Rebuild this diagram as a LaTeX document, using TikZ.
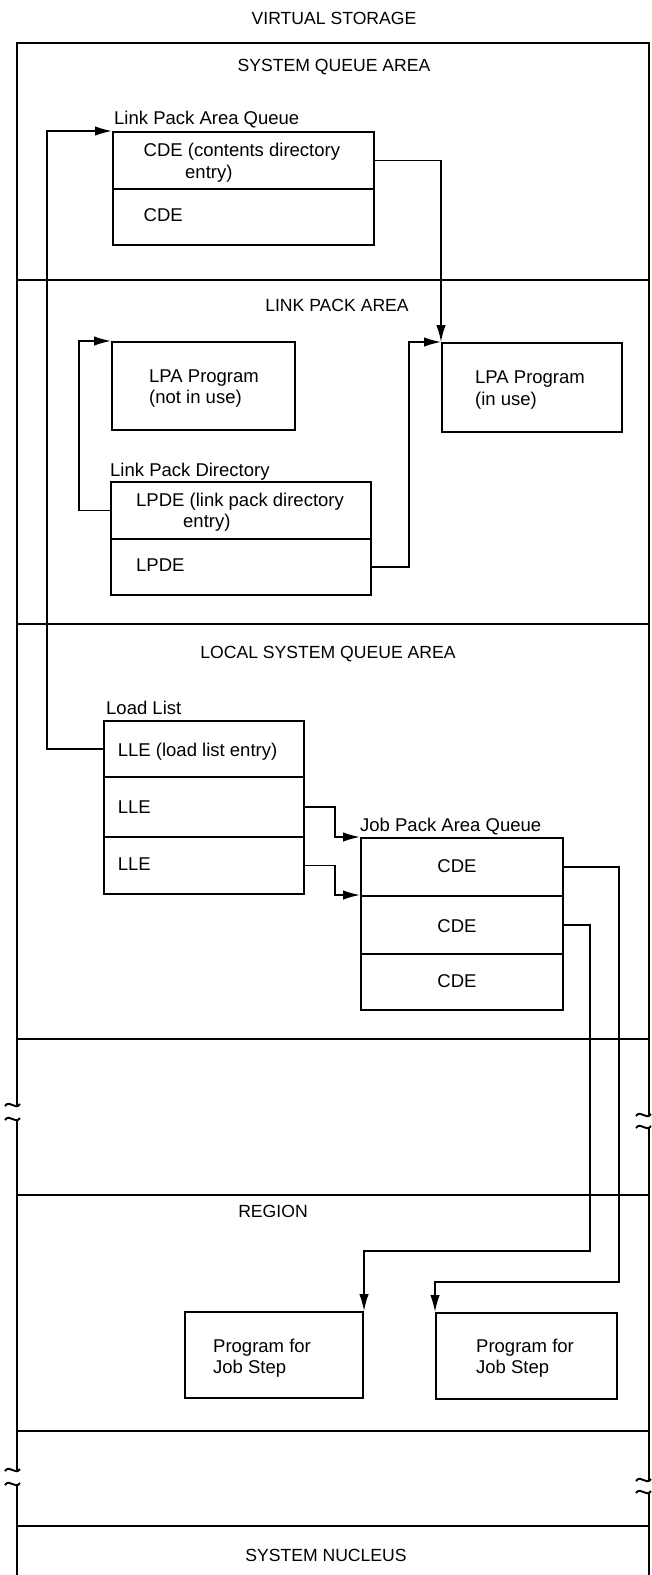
\documentclass[tikz,border=0pt]{standalone}
\usepackage{fontspec}
\setmainfont{Liberation Sans}
\usetikzlibrary{arrows.meta}
\begin{document}
\begin{tikzpicture}[x=1pt,y=-1pt,
  every node/.style={font=\fontsize{18.5}{22}\selectfont},
  frame/.style={line width=1.9pt},
  row/.style={draw,line width=2pt,inner sep=0pt,anchor=north west},
  txt/.style={anchor=base west,inner sep=0pt},
  ttl/.style={anchor=base,inner sep=0pt,font=\fontsize{17.6}{21}\selectfont},
  lbl/.style={anchor=base,inner sep=0pt},
  conn/.style={line width=1.6pt,-{Latex[length=17pt,width=9.5pt]}},
  brk/.style={line width=1.9pt}
]
\useasboundingbox (0,0) rectangle (652,1575);
% outer frame (broken at the break marks) and sections
\draw[frame] (17,1105) -- (17,43) -- (649,43) -- (649,1115);
\draw[frame] (17,1119) -- (17,1470);
\draw[frame] (17,1484) -- (17,1575);
\draw[frame] (649,1127) -- (649,1480);
\draw[frame] (649,1492) -- (649,1575);
\draw[frame] (17,280) -- (649,280);
\draw[frame] (17,624) -- (649,624);
\draw[frame] (17,1039) -- (649,1039);
\draw[frame] (17,1195) -- (649,1195);
\draw[frame] (17,1431) -- (649,1431);
\draw[frame] (17,1526) -- (649,1526);
% break marks
\foreach \bx/\by in {17/1105,17/1119,17/1470,17/1484}
  \draw[brk] (\bx-12,\by+1) .. controls (\bx-7,\by-6) and (\bx-2,\by+6) .. (\bx+3,\by-1);
\foreach \bx/\by in {649/1115,649/1127,649/1480,649/1492}
  \draw[brk] (\bx-13,\by+1) .. controls (\bx-8,\by-6) and (\bx-3,\by+6) .. (\bx+2,\by-1);
% titles
\node[ttl] (tvs) at (334,24.5) {VIRTUAL STORAGE};
\node[ttl] (tsqa) at (334,71.5) {SYSTEM QUEUE AREA};
\node[ttl] (tlpa) at (337,311.5) {LINK PACK AREA};
\node[ttl] (tlsqa) at (328,658.5) {LOCAL SYSTEM QUEUE AREA};
\node[ttl] (treg) at (273,1217.5) {REGION};
\node[ttl] (tnuc) at (326,1561.5) {SYSTEM NUCLEUS};
% boxes
\node[row,minimum width=261pt,minimum height=57pt] (qa1) at (112,131) {};
\node[row,minimum width=261pt,minimum height=56pt] (qa2) at (112,188) {};
\node[row,minimum width=183pt,minimum height=88pt] (pn) at (111,341) {};
\node[row,minimum width=180pt,minimum height=89pt] (pu) at (441,342) {};
\node[row,minimum width=260pt,minimum height=57pt] (lp1) at (110,481) {};
\node[row,minimum width=260pt,minimum height=56pt] (lp2) at (110,538) {};
\node[row,minimum width=200pt,minimum height=56pt] (ll1) at (103,720) {};
\node[row,minimum width=200pt,minimum height=60pt] (ll2) at (103,776) {};
\node[row,minimum width=200pt,minimum height=57pt] (ll3) at (103,836) {};
\node[row,minimum width=202pt,minimum height=58pt] (jq1) at (360,837) {};
\node[row,minimum width=202pt,minimum height=58pt] (jq2) at (360,895) {};
\node[row,minimum width=202pt,minimum height=56pt] (jq3) at (360,953) {};
\node[row,minimum width=178pt,minimum height=86pt] (pg1) at (184,1311) {};
\node[row,minimum width=181pt,minimum height=86pt] (pg2) at (435,1312) {};
% texts
\node[txt] (lqa) at (114,124.5) {Link Pack Area Queue};
\node[txt] (x1) at (143.5,156.5) {CDE (contents directory};
\node[txt] (x2) at (185,178.5) {entry)};
\node[txt] (x3) at (143.5,221.5) {CDE};
\node[txt] (x4) at (149,382.5) {LPA Program};
\node[txt] (x5) at (149,403.5) {(not in use)};
\node[txt] (x6) at (475,383.5) {LPA Program};
\node[txt] (x7) at (475,405.5) {(in use)};
\node[txt] (llpd) at (110,476.5) {Link Pack Directory};
\node[txt] (x8) at (136,506.5) {LPDE (link pack directory};
\node[txt] (x9) at (183,527.5) {entry)};
\node[txt] (x10) at (136,571.5) {LPDE};
\node[txt] (lll) at (106,714.5) {Load List};
\node[txt] (x11) at (117.7,756.5) {LLE (load list entry)};
\node[txt] (x12) at (117.7,813.5) {LLE};
\node[txt] (x13) at (117.7,870.5) {LLE};
\node[txt] (ljq) at (360,831.5) {Job Pack Area Queue};
\node[lbl] (x14) at (457,872.5) {CDE};
\node[lbl] (x15) at (457,932.5) {CDE};
\node[lbl] (x16) at (457,987.5) {CDE};
\node[txt] (x17) at (213,1352.5) {Program for};
\node[txt] (x18) at (213,1373.5) {Job Step};
\node[txt] (x19) at (476,1352.5) {Program for};
\node[txt] (x20) at (476,1373.5) {Job Step};
% connectors
\coordinate (t7) at (619,1282);
\coordinate (t8) at (590,1251);
\draw[conn] (ll1.west) -- ++(-56,0) |- (qa1.north west);
\draw[conn] (qa1.east) -| (pu.north west);
\draw[conn] (lp1.west) -- ++(-31,0) |- (pn.north west);
\draw[conn] (lp2.east) -- ++(37,0) |- (pu.north west);
\draw[conn] (ll2.east) -- ++(30,0) |- (jq1.north west);
\draw[conn] (ll3.east) -- ++(30,0) |- (jq2.north west);
\draw[conn] (jq1.east) -| (t7) -| (pg2.north west);
\draw[conn] (jq2.east) -| (t8) -| (pg1.north east);
\end{tikzpicture}
\end{document}
